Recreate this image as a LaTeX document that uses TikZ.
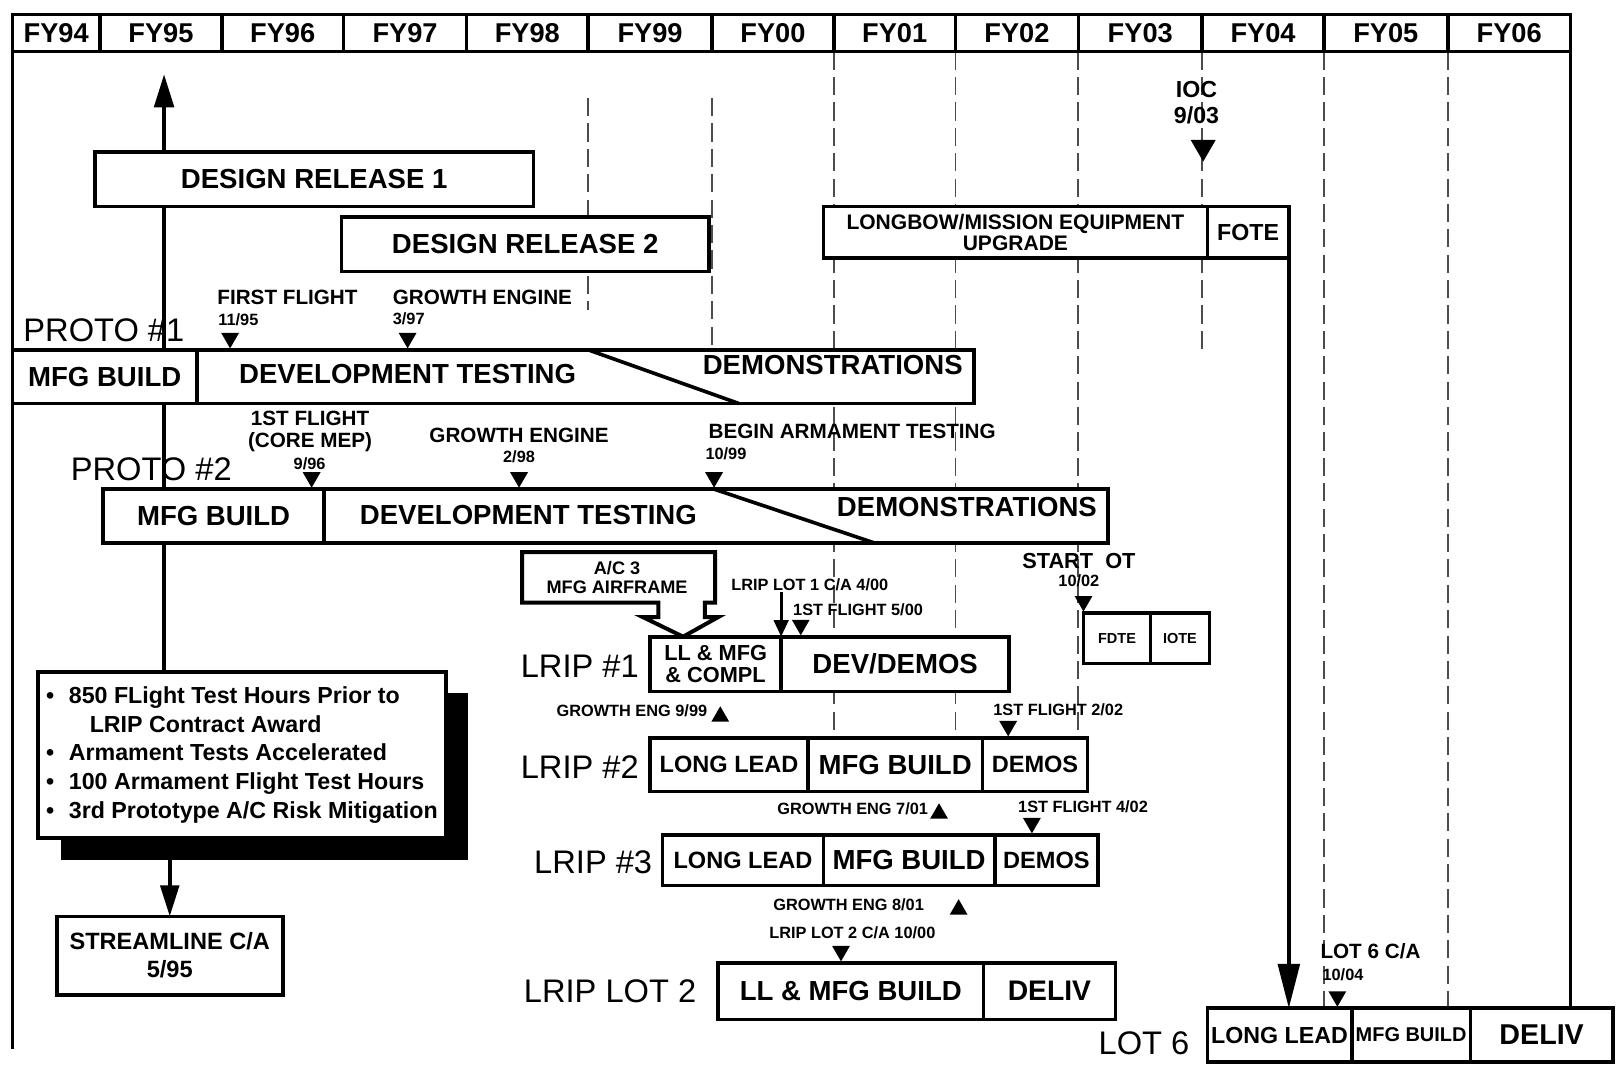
\documentclass[tikz,border=0pt]{standalone}
\usepackage{fontspec}
\setmainfont{Liberation Sans}
\usetikzlibrary{shapes.geometric, arrows.meta, positioning, shadows}

\begin{document}
\begin{tikzpicture}[
  inner sep=0pt,
  box/.style={draw, line width=1pt, fill=white, inner sep=0pt, outer sep=0pt, align=center},
  bigtxt/.style={font=\fontsize{7.6}{8.6}\selectfont\bfseries},
  midtxt/.style={font=\fontsize{6.5}{7.2}\selectfont\bfseries},
  lab/.style={font=\fontsize{9}{10}\selectfont, anchor=west},
  mstxt/.style={font=\fontsize{5.7}{6.3}\selectfont\bfseries, align=center},
  datetxt/.style={font=\fontsize{4.5}{5}\selectfont\bfseries},
  tridown/.style={isosceles triangle, isosceles triangle apex angle=60, shape border rotate=270,
                  fill=black, minimum size=0.15cm, anchor=apex},
  triup/.style={tridown, shape border rotate=90},
  yrline/.style={line width=0.5pt, black!70, dash pattern=on 5pt off 2pt},
  stem/.style={line width=1pt},
  bigarr/.style={line width=1pt, -{Triangle[length=0.32cm, width=0.19cm]}},
]
\useasboundingbox (0,0) rectangle (15.68,-10.32);

% Year grid
\foreach \gx/\gt/\gb in {5.70/0.95/3.00, 6.90/0.95/3.39, 8.08/0.50/7.15, 9.26/0.50/7.15,
                         10.45/0.50/7.15, 11.65/0.50/3.39, 12.83/0.50/9.77, 14.03/0.50/9.77}
  \draw[yrline] (\gx,-\gt) -- (\gx,-\gb);

% Fiscal years
\foreach \xl/\xr/\yr in {0.12/0.97/94, 0.97/2.15/95, 2.15/3.33/96, 3.33/4.52/97, 4.52/5.70/98,
                         5.70/6.90/99, 6.90/8.08/00, 8.08/9.26/01, 9.26/10.45/02, 10.45/11.65/03,
                         11.65/12.83/04, 12.83/14.03/05, 14.03/15.22/06}
  \node[box, minimum width={(\xr-\xl)*1cm}, minimum height=0.36cm, anchor=west,
        font=\fontsize{7.5}{8}\selectfont\bfseries] (fy\yr) at (\xl,-0.32) {FY\yr};
\draw[stem] (fy94.south west) -- (0.12,-10.17);

% Prototype 1
\node[lab] (p1) at (0.22,-3.20) {PROTO \#1};
\node[box, bigtxt, anchor=north west, minimum width=1.79cm, minimum height=0.52cm] (mfg1) at (0.12,-3.39) {MFG BUILD};
\node[box, right=0pt of mfg1, minimum width=7.53cm, minimum height=0.52cm] (dev1) {};
\draw[stem] ([xshift=3.79cm]dev1.north west) -- ([xshift=5.25cm]dev1.south west);
\node[bigtxt] (dt1) at (3.95,-3.62) {DEVELOPMENT TESTING};
\node[bigtxt] (dm1) at (8.07,-3.54) {DEMONSTRATIONS};
\node[mstxt, anchor=west] (ff1) at (2.10,-2.885) {FIRST FLIGHT};
\node[datetxt, anchor=west] (ff1d) at (2.11,-3.10) {11/95};
\node[tridown] (ff1m) at (2.23,-3.39) {};
\node[mstxt, anchor=west] (ge1) at (3.80,-2.88) {GROWTH ENGINE};
\node[datetxt, anchor=west] (ge1d) at (3.80,-3.09) {3/97};
\node[tridown] (ge1m) at (3.95,-3.39) {};

% Prototype 2
\node[lab] (p2) at (0.68,-4.55) {PROTO \#2};
\node[box, bigtxt, anchor=north west, minimum width=2.14cm, minimum height=0.52cm] (mfg2) at (1.00,-4.74) {MFG BUILD};
\node[box, right=0pt of mfg2, minimum width=7.60cm, minimum height=0.52cm] (dev2) {};
\draw[stem] ([xshift=3.78cm]dev2.north west) -- ([xshift=5.33cm]dev2.south west);
\node[bigtxt] (dt2) at (5.12,-4.99) {DEVELOPMENT TESTING};
\node[bigtxt] (dm2) at (9.37,-4.91) {DEMONSTRATIONS};
\node[mstxt] (ff2) at (3.005,-4.18) {1ST FLIGHT\\(CORE MEP)};
\node[datetxt] (ff2d) at (3.00,-4.49) {9/96};
\node[tridown] (ff2m) at (3.02,-4.74) {};
\node[mstxt] (ge2) at (5.03,-4.215) {GROWTH ENGINE};
\node[datetxt] (ge2d) at (5.03,-4.43) {2/98};
\node[tridown] (ge2m) at (5.03,-4.74) {};
\node[mstxt, anchor=west] (arm2) at (6.86,-4.18) {BEGIN ARMAMENT TESTING};
\node[datetxt, anchor=west] (arm2d) at (6.83,-4.40) {10/99};
\node[tridown] (arm2m) at (6.92,-4.74) {};

% Notes and streamline
\node[box, anchor=north west, minimum width=3.95cm, minimum height=1.61cm, align=left,
      font=\fontsize{6.4}{7.9}\selectfont\bfseries,
      drop shadow={shadow xshift=0.22cm, shadow yshift=-0.21cm, fill=black, opacity=1}] (notes) at (0.37,-6.51)
{\textbullet\hspace{4pt}850 FLight Test Hours Prior to\\
\hspace*{12pt}LRIP Contract Award\\
\textbullet\hspace{4pt}Armament Tests Accelerated\\
\textbullet\hspace{4pt}100 Armament Flight Test Hours\\
\textbullet\hspace{4pt}3rd Prototype A/C Risk Mitigation};
\node[box, minimum width=2.19cm, minimum height=0.76cm, font=\fontsize{6.5}{7.7}\selectfont\bfseries] (stream) at (1.645,-9.26)
{STREAMLINE C/A\\5/95};

% Main stem
\coordinate (relTop) at (1.59,-0.72);
\draw[bigarr] (mfg1.north -| relTop) -- (relTop);
\draw[stem] (mfg1.south -| relTop) -- (mfg2.north -| relTop);
\draw[stem] (mfg2.south -| relTop) -- (notes.north -| relTop);
\draw[line width=1pt, -{Triangle[length=0.30cm, width=0.18cm]}] (notes.south -| stream.north) ++(0,-0.21) -- (stream.north);

% Design releases
\node[box, bigtxt, minimum width=4.25cm, minimum height=0.53cm] (dr1) at (3.045,-1.735) {DESIGN RELEASE 1};
\node[box, bigtxt, minimum width=3.56cm, minimum height=0.53cm] (dr2) at (5.09,-2.365) {DESIGN RELEASE 2};

% Longbow upgrade
\node[font=\fontsize{6.4}{7.1}\selectfont\bfseries, align=center] (ioc) at (11.595,-0.995) {IOC\\9/03};
\node[tridown, minimum size=0.21cm] (iocm) at (11.66,-1.58) {};
\node[box, anchor=north west, minimum width=3.72cm, minimum height=0.50cm,
      font=\fontsize{5.8}{5.7}\selectfont\bfseries] (lb) at (7.98,-2.00) {LONGBOW/MISSION EQUIPMENT\\UPGRADE};
\node[box, right=0pt of lb, minimum width=0.79cm, minimum height=0.50cm,
      font=\fontsize{6.4}{7}\selectfont\bfseries] (fote) {FOTE};

% LRIP 1
\draw[line width=1.1pt, fill=white] (5.06,-5.35) -- (6.93,-5.35) -- (6.93,-5.84) -- (6.83,-5.84) -- (6.83,-5.98)
  -- (6.96,-5.98) -- (6.62,-6.17) -- (6.23,-5.98) -- (6.38,-5.98) -- (6.38,-5.84) -- (5.06,-5.84) -- cycle;
\node[font=\fontsize{5}{5.2}\selectfont\bfseries, align=center] (ac3) at (5.98,-5.60) {A/C 3\\MFG AIRFRAME};
\node[lab] (l1) at (5.04,-6.46) {LRIP \#1};
\node[box, anchor=north west, minimum width=1.27cm, minimum height=0.53cm,
      font=\fontsize{6}{6.3}\selectfont\bfseries] (l1a) at (6.30,-6.17) {LL \& MFG\\\& COMPL};
\node[box, bigtxt, right=0pt of l1a, minimum width=2.21cm, minimum height=0.53cm] (l1b) {DEV/DEMOS};
\node[datetxt, anchor=west] (lot1ca) at (7.08,-5.67) {LRIP LOT 1 C/A 4/00};
\draw[line width=0.8pt, -{Triangle[length=0.16cm, width=0.14cm]}] (lot1ca.south -| l1a.north east) -- (l1a.north east);
\node[datetxt, anchor=west] (ff3) at (7.68,-5.905) {1ST FLIGHT 5/00};
\node[tridown] (ff3m) at (7.76,-6.17) {};
\node[datetxt, anchor=east] (ge3) at (6.86,-6.885) {GROWTH ENG 9/99};
\node[triup] (ge3m) at (6.98,-6.83) {};

% Operational test
\node[font=\fontsize{6}{7}\selectfont\bfseries, anchor=west] (sot) at (9.90,-5.44) {START\ \ OT};
\node[datetxt] (sotd) at (10.455,-5.63) {10/02};
\node[tridown] (sotm) at (10.50,-5.94) {};
\node[box, anchor=north west, line width=0.9pt, minimum width=0.65cm, minimum height=0.49cm,
      font=\fontsize{4}{5}\selectfont\bfseries] (fdte) at (10.50,-5.94) {FDTE};
\node[box, right=0pt of fdte, line width=0.9pt, minimum width=0.57cm, minimum height=0.49cm,
      font=\fontsize{4}{5}\selectfont\bfseries] (iote) {IOTE};

% LRIP 2
\node[lab] (l2) at (5.04,-7.43) {LRIP \#2};
\node[box, midtxt, anchor=north west, minimum width=1.53cm, minimum height=0.52cm] (l2a) at (6.30,-7.15) {LONG LEAD};
\node[box, bigtxt, right=0pt of l2a, minimum width=1.69cm, minimum height=0.52cm] (l2b) {MFG BUILD};
\node[box, midtxt, right=0pt of l2b, minimum width=1.02cm, minimum height=0.52cm] (l2c) {DEMOS};
\node[datetxt, anchor=west] (ff4) at (9.62,-6.88) {1ST FLIGHT 2/02};
\node[tridown] (ff4m) at (9.77,-7.15) {};
\node[datetxt, anchor=east] (ge4) at (9.00,-7.84) {GROWTH ENG 7/01};
\node[triup] (ge4m) at (9.10,-7.77) {};

% LRIP 3
\node[lab] (l3) at (5.17,-8.36) {LRIP \#3};
\node[box, midtxt, anchor=north west, minimum width=1.56cm, minimum height=0.49cm] (l3a) at (6.42,-8.09) {LONG LEAD};
\node[box, bigtxt, right=0pt of l3a, minimum width=1.66cm, minimum height=0.49cm] (l3b) {MFG BUILD};
\node[box, midtxt, right=0pt of l3b, minimum width=1.00cm, minimum height=0.49cm] (l3c) {DEMOS};
\node[datetxt, anchor=west] (ff5) at (9.86,-7.82) {1ST FLIGHT 4/02};
\node[tridown] (ff5m) at (10.00,-8.09) {};
\node[datetxt, anchor=east] (ge5) at (8.96,-8.77) {GROWTH ENG 8/01};
\node[triup] (ge5m) at (9.29,-8.70) {};

% LRIP lot 2
\node[datetxt] (lot2ca) at (8.26,-9.035) {LRIP LOT 2 C/A 10/00};
\node[tridown] (lot2cam) at (8.15,-9.33) {};
\node[lab] (lot2) at (5.07,-9.61) {LRIP LOT 2};
\node[box, bigtxt, anchor=north west, minimum width=2.57cm, minimum height=0.55cm] (lt2a) at (6.96,-9.33) {LL \& MFG BUILD};
\node[box, right=0pt of lt2a, minimum width=1.28cm, minimum height=0.55cm,
      font=\fontsize{7.8}{8.6}\selectfont\bfseries] (lt2b) {DELIV};

% Lot 6
\node[lab] (lot6) at (10.64,-10.11) {LOT 6};
\node[box, anchor=north west, minimum width=1.40cm, minimum height=0.52cm,
      font=\fontsize{6.4}{7}\selectfont\bfseries] (l6a) at (11.70,-9.77) {LONG LEAD};
\node[box, right=0pt of l6a, minimum width=1.15cm, minimum height=0.52cm,
      font=\fontsize{5.5}{6}\selectfont\bfseries] (l6b) {MFG BUILD};
\node[box, right=0pt of l6b, minimum width=1.38cm, minimum height=0.52cm,
      font=\fontsize{7.9}{8.6}\selectfont\bfseries] (l6c) {DELIV};
\node[mstxt, anchor=west] (lot6ca) at (12.79,-9.215) {LOT 6 C/A};
\node[datetxt, anchor=west] (lot6cad) at (12.81,-9.45) {10/04};
\node[tridown] (lot6cam) at (12.96,-9.77) {};
\draw[line width=1pt, -{Triangle[length=0.43cm, width=0.21cm]}] (fote.south east) -- (fote.south east |- l6a.north);
\draw[stem] (fy06.south east) -- (fy06.south east |- l6c.north);
\end{tikzpicture}
\end{document}
